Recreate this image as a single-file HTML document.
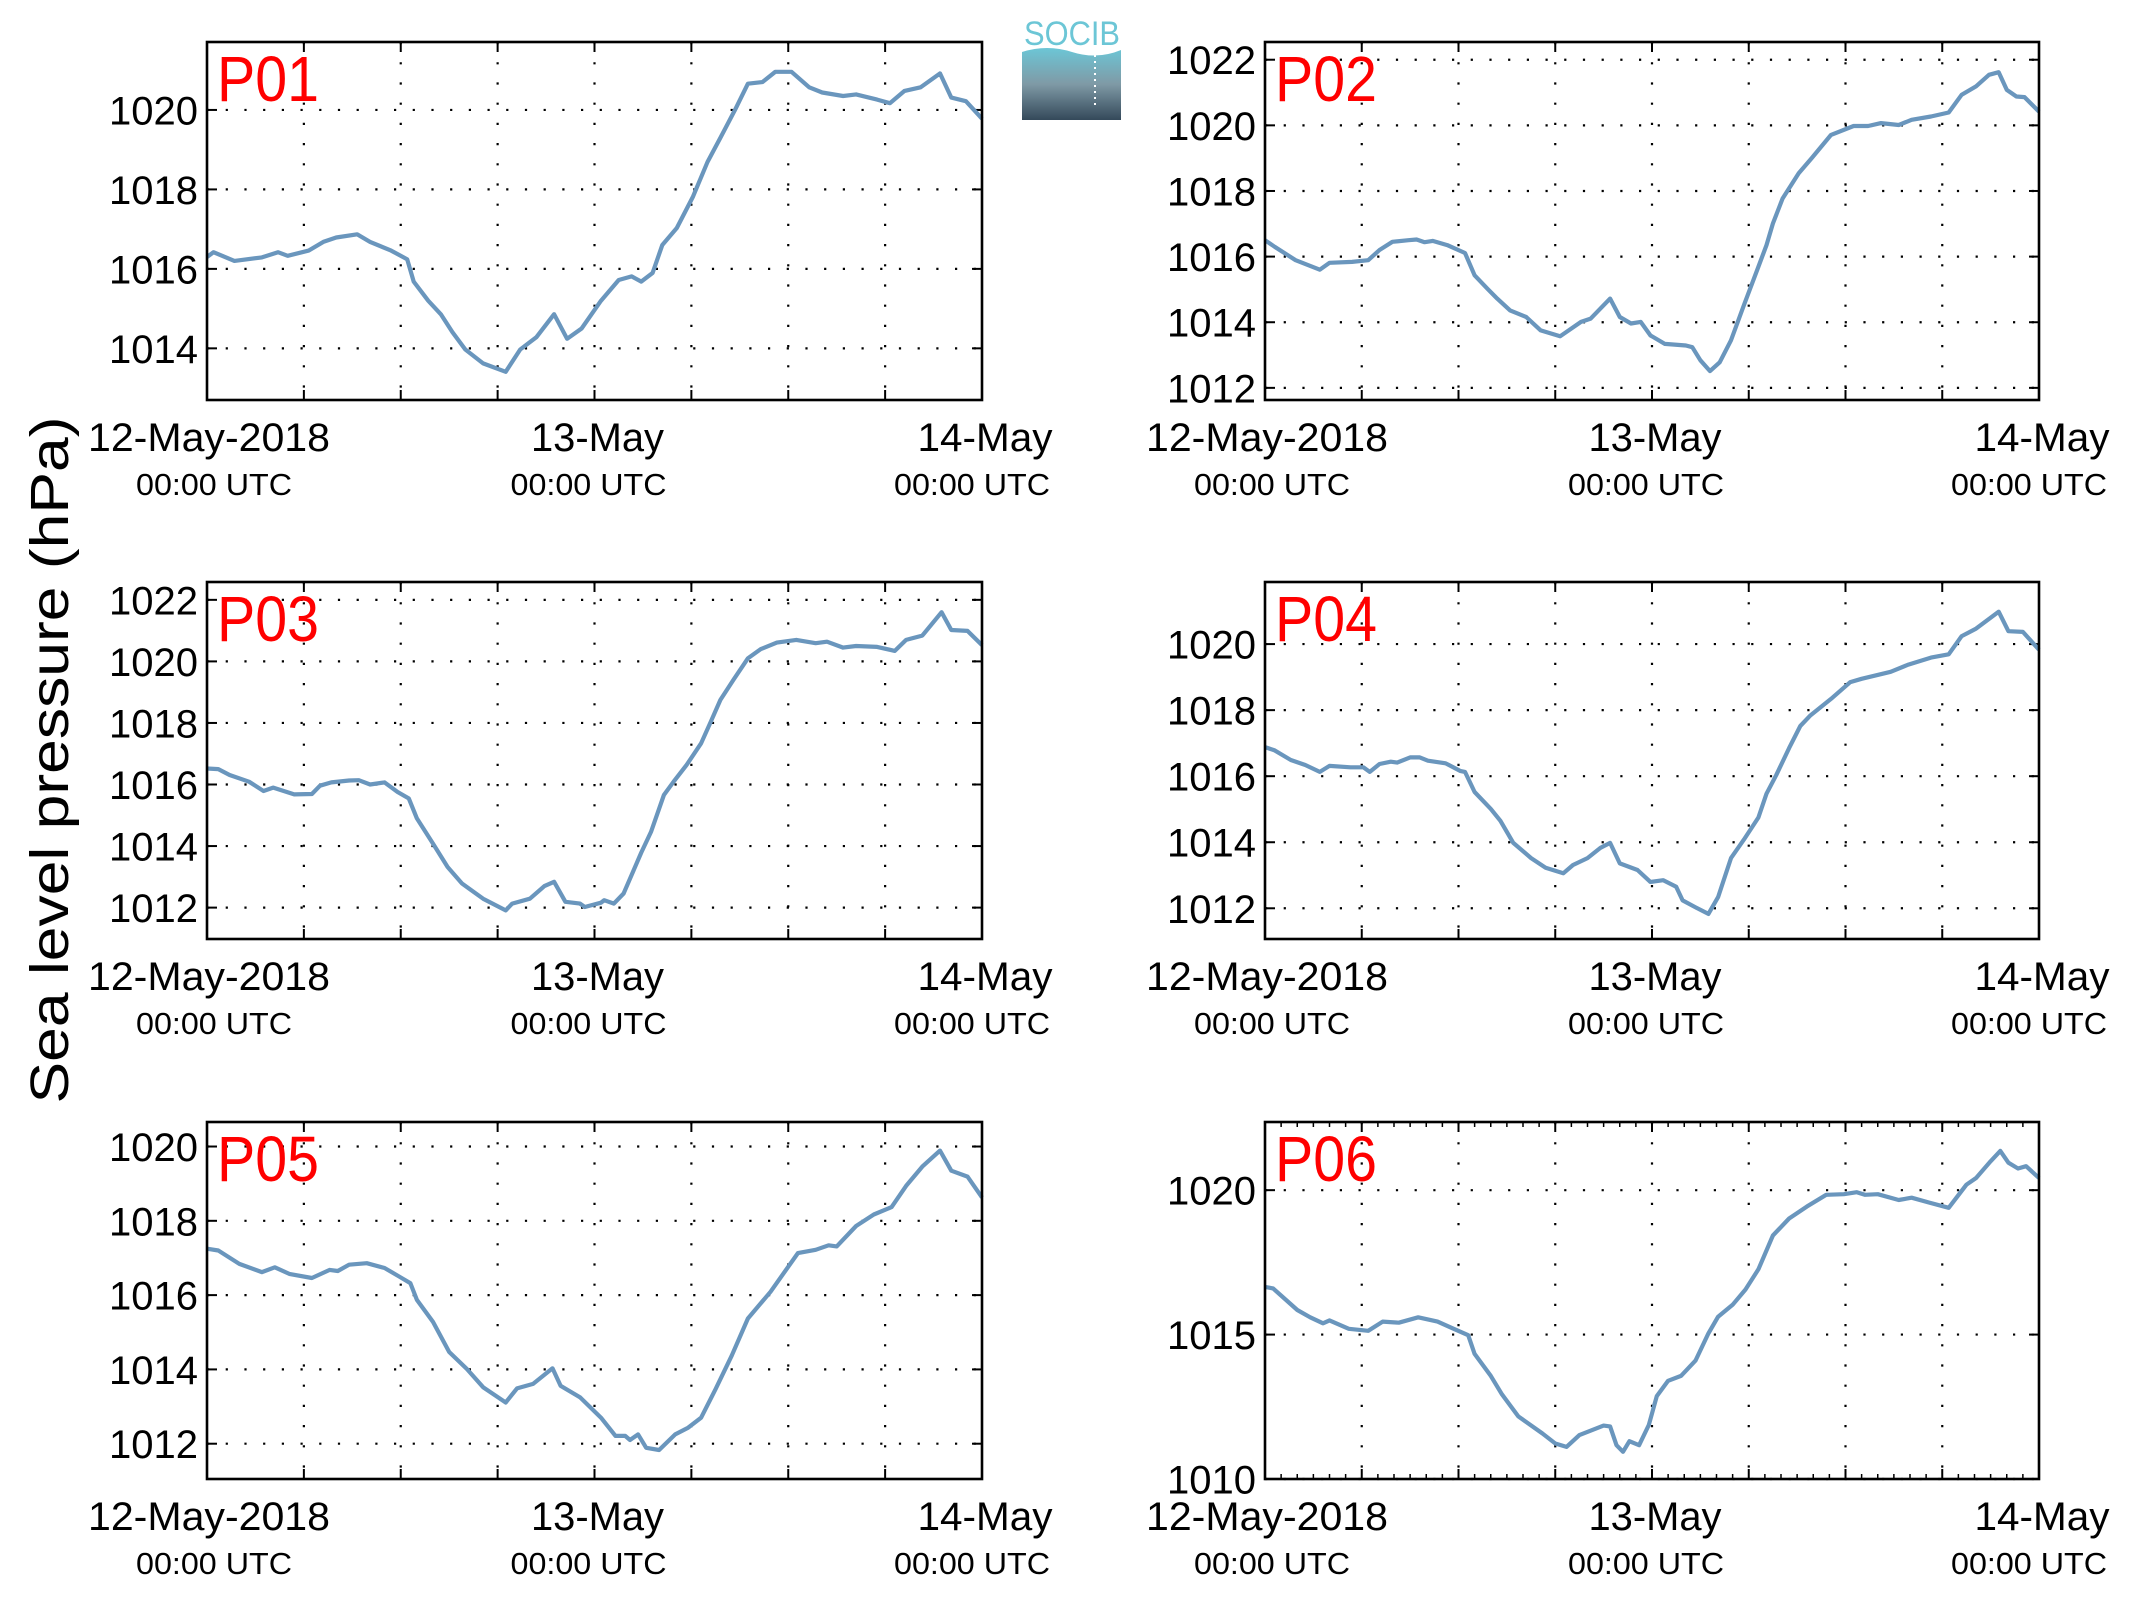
<!DOCTYPE html>
<html><head><meta charset="utf-8">
<style>
html,body{margin:0;padding:0;background:#fff;}
svg{display:block;font-family:"Liberation Sans",Arial,sans-serif;}
</style></head>
<body>
<svg id="fig" width="2133" height="1608" viewBox="0 0 2133 1608" xmlns="http://www.w3.org/2000/svg">
  <text transform="translate(68,760) rotate(-90)" text-anchor="middle" font-size="54" textLength="687" lengthAdjust="spacingAndGlyphs">Sea level pressure (hPa)</text>
  <g>
    <defs><linearGradient id="lg" x1="0" y1="0" x2="0" y2="1"><stop offset="0" stop-color="#6cc6d6"/><stop offset="0.5" stop-color="#7f9aa6"/><stop offset="1" stop-color="#34495a"/></linearGradient></defs>
    <text x="1024" y="45" font-size="34" fill="#6cc6d6" textLength="96" lengthAdjust="spacingAndGlyphs">SOCIB</text>
    <path d="M1022,52 Q1047,44 1072,52 T1121,50 L1121,120 L1022,120 Z" fill="url(#lg)"/>
    <line x1="1095" y1="55" x2="1095" y2="105" stroke="#fff" stroke-width="2" stroke-dasharray="2,4"/>
  </g>
  <g id="panels"></g>
</svg>
<script>
// ---- data (hours since 12-May-2018 00:00 UTC, pressure hPa) ----
const xTickHours = [0, 24, 48];
const xTickLabels = ["12-May-2018", "13-May", "14-May"];
const panelNames = ["P01","P02","P03","P04","P05","P06"];

const hoursP01 = [0,0.4,1.7,3.4,4.4,5,6.3,7.2,8,9.3,10.1,11.4,12.4,12.8,13.7,14.5,15.2,16,17.1,18.5,19.4,20.4,21.5,22.3,23.2,24.4,25.5,26.3,26.9,27.6,28.2,29.1,30.1,31,31.8,32.7,33.5,34.4,35.2,36.2,37.3,38.1,39.4,40.2,41.5,42.3,43.2,44.2,45.4,46.1,47,48];
const valuesP01 = [1016.3,1016.42,1016.2,1016.29,1016.42,1016.33,1016.46,1016.68,1016.79,1016.87,1016.68,1016.46,1016.24,1015.68,1015.2,1014.85,1014.41,1013.97,1013.62,1013.41,1013.97,1014.28,1014.86,1014.24,1014.5,1015.2,1015.72,1015.81,1015.68,1015.9,1016.6,1017.03,1017.82,1018.69,1019.3,1020,1020.66,1020.7,1020.96,1020.96,1020.57,1020.44,1020.35,1020.39,1020.26,1020.17,1020.48,1020.57,1020.92,1020.31,1020.22,1019.78];

const hoursP02 = [0,0.6,1.9,3.4,4,5.4,6.4,7.1,7.9,8.9,9.4,9.9,10.4,11.3,12.4,13,13.8,14.4,15.2,16.2,17.1,18.3,19.6,20.2,21.4,22,22.7,23.3,23.9,24.8,26.1,26.5,27,27.6,28.2,28.9,29.7,30.6,31.1,31.5,32.1,33.1,33.9,35.1,36.5,37.4,38.2,39.3,40.1,41.3,42.4,43.2,44.1,44.9,45.5,46,46.6,47.1,48];
const valuesP02 = [1016.5,1016.3,1015.89,1015.6,1015.81,1015.84,1015.89,1016.2,1016.45,1016.5,1016.52,1016.44,1016.48,1016.35,1016.11,1015.43,1015.02,1014.72,1014.36,1014.16,1013.75,1013.57,1014.01,1014.11,1014.72,1014.16,1013.96,1014.01,1013.6,1013.34,1013.29,1013.24,1012.84,1012.51,1012.78,1013.45,1014.52,1015.69,1016.35,1017.01,1017.77,1018.54,1019,1019.71,1019.98,1019.98,1020.07,1020.01,1020.17,1020.27,1020.39,1020.93,1021.19,1021.54,1021.62,1021.08,1020.88,1020.86,1020.42];

const hoursP03 = [0,0.7,1.4,2.6,3.5,4.1,5.4,6.5,7,7.7,8.8,9.4,10.1,11,11.8,12.5,13,14,14.9,15.8,17.1,18.5,18.9,20,20.9,21.5,22.2,23.1,23.4,24.4,24.6,25.2,25.8,26.9,27.5,28.3,28.9,29.7,30.6,31.2,31.8,32.6,33.5,34.3,35.3,36.5,37.7,38.4,39.4,40.2,41.5,42.6,43.3,44.3,45.5,46.1,47.1,48];
const valuesP03 = [1016.52,1016.5,1016.31,1016.09,1015.79,1015.9,1015.68,1015.69,1015.96,1016.07,1016.13,1016.14,1016,1016.07,1015.76,1015.55,1014.9,1014.08,1013.32,1012.78,1012.29,1011.91,1012.13,1012.29,1012.7,1012.84,1012.19,1012.13,1012.02,1012.16,1012.24,1012.13,1012.46,1013.79,1014.46,1015.66,1016.09,1016.63,1017.34,1018.04,1018.75,1019.4,1020.1,1020.4,1020.61,1020.7,1020.59,1020.64,1020.45,1020.5,1020.47,1020.34,1020.7,1020.84,1021.6,1021.02,1020.99,1020.53];

const hoursP04 = [0,0.6,1.6,2.5,3.4,4,5.3,6.1,6.5,7.1,7.8,8.2,9,9.6,10.1,11.2,12.1,12.4,13,14,14.6,15.4,16.5,17.4,18.5,19.1,20,20.8,21.4,22,23.1,23.9,24.7,25.5,25.9,26.7,27.5,28.1,28.9,29.7,30.6,31.1,31.7,32.5,33.2,33.8,35.1,36.3,37,38.8,39.9,41.3,42.4,43.2,44.1,45.5,46.1,47,48];
const valuesP04 = [1016.88,1016.78,1016.49,1016.34,1016.13,1016.31,1016.27,1016.27,1016.13,1016.37,1016.44,1016.41,1016.57,1016.57,1016.47,1016.39,1016.16,1016.13,1015.52,1015.01,1014.65,1013.98,1013.52,1013.23,1013.06,1013.31,1013.52,1013.83,1013.98,1013.36,1013.16,1012.8,1012.85,1012.65,1012.24,1012.03,1011.83,1012.34,1013.52,1014.08,1014.75,1015.47,1016.03,1016.85,1017.52,1017.83,1018.34,1018.85,1018.95,1019.16,1019.38,1019.59,1019.69,1020.24,1020.47,1020.98,1020.39,1020.37,1019.83];

const hoursP05 = [0,0.7,2,3.4,4.2,5.1,6.5,7.6,8.1,8.8,9.9,11,11.9,12.6,13,14,15,16.1,17.1,18.5,19.2,20.2,21.4,21.9,23.1,24.4,25.3,25.9,26.2,26.7,27.2,28,29,29.8,30.6,31.5,32.5,33.5,34.9,36.6,37.7,38.5,39,40.2,41.3,42.4,43.3,44.3,45.4,46.1,47.1,48];
const valuesP05 = [1017.25,1017.2,1016.84,1016.62,1016.75,1016.57,1016.46,1016.68,1016.65,1016.82,1016.86,1016.73,1016.5,1016.32,1015.87,1015.28,1014.47,1014.01,1013.52,1013.11,1013.49,1013.61,1014.03,1013.56,1013.25,1012.7,1012.21,1012.21,1012.1,1012.25,1011.89,1011.83,1012.25,1012.43,1012.7,1013.47,1014.37,1015.37,1016.09,1017.13,1017.22,1017.34,1017.31,1017.86,1018.17,1018.37,1018.94,1019.46,1019.89,1019.35,1019.19,1018.63];

const hoursP06 = [0,0.5,2,2.8,3.6,4,5.2,6.4,7.3,8.3,9.5,10.7,11.7,12.6,13,14,14.7,15.7,17.2,18,18.7,19.5,21,21.4,21.8,22.2,22.6,23.2,23.8,24.3,25,25.8,26.7,27.5,28.1,29,29.8,30.6,31.5,32.5,33.6,34.8,35.9,36.7,37.2,38,39.3,40.1,41.2,42.4,43.5,44.1,45,45.6,46.1,46.7,47.2,48];
const valuesP06 = [1016.65,1016.6,1015.85,1015.6,1015.39,1015.49,1015.2,1015.13,1015.45,1015.41,1015.6,1015.45,1015.2,1014.98,1014.33,1013.57,1012.93,1012.17,1011.58,1011.23,1011.11,1011.52,1011.85,1011.82,1011.17,1010.94,1011.31,1011.17,1011.87,1012.87,1013.4,1013.57,1014.1,1015.04,1015.62,1016.03,1016.56,1017.26,1018.43,1019.02,1019.43,1019.84,1019.86,1019.93,1019.84,1019.86,1019.66,1019.74,1019.57,1019.39,1020.19,1020.42,1021,1021.36,1020.95,1020.75,1020.83,1020.42];

const yTicksP01 = [1014,1016,1018,1020];
const yTicksP02 = [1012,1014,1016,1018,1020,1022];
const yTicksP03 = [1012,1014,1016,1018,1020,1022];
const yTicksP04 = [1012,1014,1016,1018,1020];
const yTicksP05 = [1012,1014,1016,1018,1020];
const yTicksP06 = [1010,1015,1020];
const yRangeP01 = [1012.7,1021.71];
const yRangeP02 = [1011.63,1022.54];
const yRangeP03 = [1010.98,1022.58];
const yRangeP04 = [1011.07,1021.88];
const yRangeP05 = [1011.05,1020.66];
const yRangeP06 = [1010.0,1022.36];

const seriesHours = [hoursP01,hoursP02,hoursP03,hoursP04,hoursP05,hoursP06];
const seriesValues = [valuesP01,valuesP02,valuesP03,valuesP04,valuesP05,valuesP06];
const seriesTicks = [yTicksP01,yTicksP02,yTicksP03,yTicksP04,yTicksP05,yTicksP06];
const seriesRanges = [yRangeP01,yRangeP02,yRangeP03,yRangeP04,yRangeP05,yRangeP06];

// ---- layout ----
const NS = "http://www.w3.org/2000/svg";
const colX = [[207,982],[1265,2039]];
const rowY = [[42,400],[582,939],[1122,1479]];
const root = document.getElementById('panels');
function mk(tag, attrs, parent){
  const e = document.createElementNS(NS, tag);
  for (const k in attrs) e.setAttribute(k, attrs[k]);
  parent.appendChild(e);
  return e;
}
for (let p = 0; p < 6; p++) {
  const col = p % 2, row = Math.floor(p / 2);
  const [L, R] = colX[col], [T, B] = rowY[row];
  const [y0, y1] = seriesRanges[p];
  const xs = h => L + (R - L) * h / 48;
  const ys = v => B - (B - T) * (v - y0) / (y1 - y0);
  const g = mk('g', {}, root);
  
  
  for (let h = 6; h < 48; h += 6) {
    const gl = mk('line', {x1: xs(h), x2: xs(h), y1: T, y2: B, stroke: '#000', 'stroke-width': 2.2, 'stroke-dasharray': '2.2,18'}, g);
    
    
    mk('line', {x1: xs(h), x2: xs(h), y1: B, y2: B - 10, stroke: '#000', 'stroke-width': 2}, g);
    mk('line', {x1: xs(h), x2: xs(h), y1: T, y2: T + 10, stroke: '#000', 'stroke-width': 2}, g);
  }
  if (p === 5) {
    for (let h = 1; h < 48; h++) {
      mk('line', {x1: xs(h), x2: xs(h), y1: B, y2: B - 5, stroke: '#000', 'stroke-width': 1.5}, g);
      mk('line', {x1: xs(h), x2: xs(h), y1: T, y2: T + 5, stroke: '#000', 'stroke-width': 1.5}, g);
    }
  }
  seriesTicks[p].forEach(v => {
    const y = ys(v);
    const gl = mk('line', {x1: L, x2: R, y1: y, y2: y, stroke: '#000', 'stroke-width': 2.2, 'stroke-dasharray': '2.2,16.5'}, g);
    
    
    mk('line', {x1: L, x2: L + 10, y1: y, y2: y, stroke: '#000', 'stroke-width': 2}, g);
    mk('line', {x1: R, x2: R - 10, y1: y, y2: y, stroke: '#000', 'stroke-width': 2}, g);
    const t = mk('text', {x: L - 9, y: y + 14.5, 'text-anchor': 'end', 'font-size': 40}, g);
    
    
    t.textContent = String(v);
  });
  const pts = seriesHours[p].map((h, i) => xs(h).toFixed(1) + ',' + ys(seriesValues[p][i]).toFixed(1)).join(' ');
  const line = mk('polyline', {points: pts, fill: 'none', stroke: '#6a96bd', 'stroke-width': 4.2, 'stroke-linejoin': 'round'}, g);
  
  
  const fr = mk('rect', {x: L, y: T, width: R - L, height: B - T, fill: 'none', stroke: '#000', 'stroke-width': 2.6}, g);
  
  
  const lab = mk('text', {x: L + 10, y: T + 59, 'font-size': 64, fill: '#ff0000', textLength: 102, lengthAdjust: 'spacingAndGlyphs'}, g);
  
  
  lab.textContent = panelNames[p];
  const widths = [242, 133, 135];
  const offs = [2, 3, 3];
  xTickHours.forEach((h, i) => {
    const cx = xs(h) + offs[i];
    const t = mk('text', {x: cx, y: B + 51, 'text-anchor': 'middle', 'font-size': 40, textLength: widths[i], lengthAdjust: 'spacingAndGlyphs'}, g);
    
    
    t.textContent = xTickLabels[i];
    const u = mk('text', {x: xs(h) + [7, -6, -10][i], y: B + 95, 'text-anchor': 'middle', 'font-size': 31, textLength: 156, lengthAdjust: 'spacingAndGlyphs'}, g);
    
    
    u.textContent = '00:00 UTC';
  });
}
</script>
</body></html>
